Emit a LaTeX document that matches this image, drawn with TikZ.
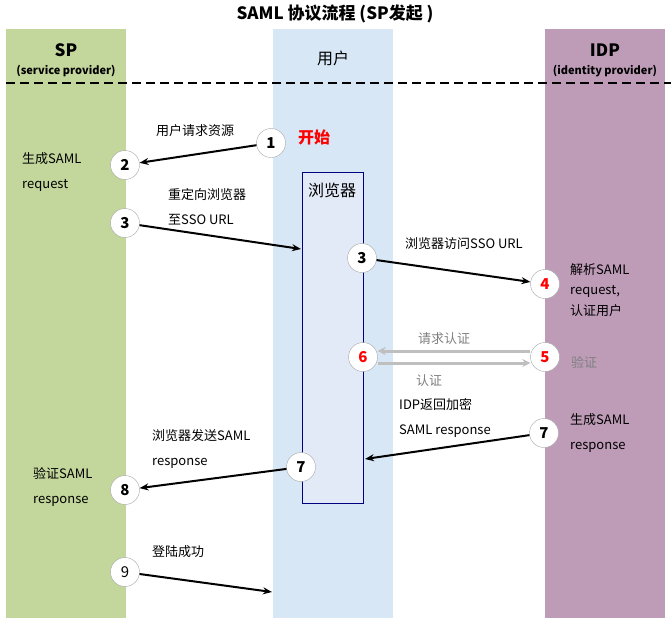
\documentclass[tikz,border=0pt]{standalone}
\usepackage{fontspec}
\setmainfont{Noto Sans CJK SC}
\usetikzlibrary{arrows.meta}
\definecolor{spgreen}{HTML}{C3D69B}
\definecolor{userblue}{HTML}{D7E7F6}
\definecolor{idppurple}{HTML}{BE9CB8}
\definecolor{browserfill}{HTML}{E3EAF7}
\definecolor{browserline}{HTML}{000080}
\definecolor{startred}{HTML}{FF0000}
\definecolor{authgray}{HTML}{BFBFBF}

\begin{document}
\begin{tikzpicture}[x=1pt, y=-1pt,
    num/.style={circle, draw=gray!70, fill=white, minimum size=29pt, inner sep=0pt, font=\fontsize{15}{15}\selectfont\bfseries},
    rednum/.style={num, text=startred},
    lbl/.style={anchor=west, align=left, inner sep=0pt, font=\fontsize{13}{25}\selectfont},
    graylbl/.style={lbl, text=gray},
    flow/.style={line width=2pt, -{Stealth[length=9pt, width=7pt]}},
    authflow/.style={line width=3pt, authgray, -{Stealth[open, length=8pt, width=8pt]}}]
  \useasboundingbox (0,0) rectangle (671,625);
  % lanes
  \fill[spgreen] (6,29) rectangle (126,618);
  \fill[userblue] (273,29) rectangle (393,618);
  \fill[idppurple] (545,29) rectangle (665,618);
  % title and headers
  \node[font=\fontsize{17}{17}\selectfont\bfseries] (title) at (335,14) {SAML 协议流程 (SP发起 )};
  \node[font=\fontsize{17}{17}\selectfont\bfseries] (sp) at (66,50) {SP};
  \node[font=\fontsize{11}{11}\selectfont\bfseries] (spsub) at (66,71) {(service provider)};
  \node[font=\fontsize{16}{16}\selectfont] (user) at (333,58) {用户};
  \node[font=\fontsize{17}{17}\selectfont\bfseries] (idp) at (605,50) {IDP};
  \node[font=\fontsize{11}{11}\selectfont\bfseries] (idpsub) at (605,71) {(identity provider)};
  \draw[line width=2pt, dash pattern=on 9pt off 5pt] (6,83) -- (671,83);
  % browser box
  \draw[browserline, fill=browserfill] (302,172) rectangle (363,503);
  \node[font=\fontsize{16}{16}\selectfont] (browser) at (332,190) {浏览器};
  \coordinate (brin) at (301,249);
  \coordinate (brout) at (365,459);
  \coordinate (userin) at (272,592);
  % steps
  \node[num] (n1) at (271,143) {1};
  \node[num] (n2) at (125,165) {2};
  \node[num] (n3) at (125,223) {3};
  \node[num] (n3b) at (362,258) {3};
  \node[rednum] (n4) at (545,284) {4};
  \node[rednum] (n5) at (545,357) {5};
  \node[rednum] (n6) at (363,357) {6};
  \node[num] (n7) at (544,433) {7};
  \node[num] (n7b) at (301,467) {7};
  \node[num] (n8) at (125,490) {8};
  \node[num, font=\fontsize{15}{15}\selectfont] (n9) at (125,572) {9};
  % texts
  \node[font=\fontsize{16}{16}\selectfont\bfseries, text=startred] (start) at (314,137) {开始};
  \node[lbl] (reqres) at (156,131) {用户请求资源};
  \node[lbl] (genreq) at (22,172) {生成SAML\\request};
  \node[lbl] (redir) at (168,207) {重定向浏览器\\至SSO URL};
  \node[lbl] (visit) at (405,244) {浏览器访问SSO URL};
  \node[lbl, font=\fontsize{13}{20.5}\selectfont] (parse) at (570,290) {解析SAML\\request,\\认证用户};
  \node[graylbl] (askauth) at (418,339) {请求认证};
  \node[graylbl] (auth) at (416,381) {认证};
  \node[graylbl] (verify) at (571,362) {验证};
  \node[lbl] (idpret) at (399,418) {IDP返回加密\\SAML response};
  \node[lbl] (genresp) at (570,433) {生成SAML\\response};
  \node[lbl] (sendresp) at (152,449) {浏览器发送SAML\\response};
  \node[lbl] (chkresp) at (33,487) {验证SAML\\response};
  \node[lbl] (login) at (152,552) {登陆成功};
  % arrows
  \draw[flow] (n1) -- (n2);
  \draw[flow] (n3) -- (brin);
  \draw[flow] (n3b) -- (n4);
  \draw[authflow] ([yshift=6pt]n5.west) -- ([yshift=6pt]n6.east);
  \draw[authflow] ([yshift=-6pt]n6.east) -- ([yshift=-6pt]n5.west);
  \draw[flow] (n7) -- (brout);
  \draw[flow] (n7b) -- (n8);
  \draw[flow] (n9) -- (userin);
\end{tikzpicture}
\end{document}
